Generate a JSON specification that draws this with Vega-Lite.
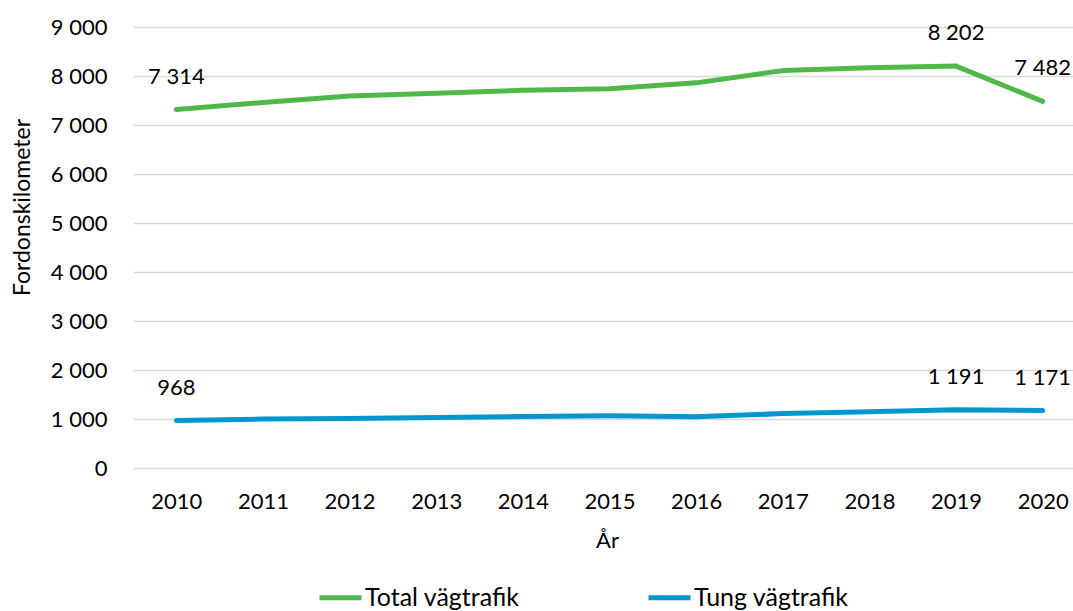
{
  "$schema": "https://vega.github.io/schema/vega-lite/v6.json",
  "autosize": {"type": "none"},
  "padding": {"left": 133, "top": 27, "right": 0, "bottom": 143},
  "width": 953,
  "height": 441,
  "background": "white",
  "config": {
    "locale": {"number": {"decimal": ",", "thousands": "\u00a0", "grouping": [3], "currency": ["", " kr"]}},
    "font": "Lato",
    "view": {"stroke": null}
  },
  "data": {
    "values": [
      {"year": "2010", "series": "Total vägtrafik", "value": 7314},
      {"year": "2011", "series": "Total vägtrafik", "value": 7460},
      {"year": "2012", "series": "Total vägtrafik", "value": 7590},
      {"year": "2013", "series": "Total vägtrafik", "value": 7650},
      {"year": "2014", "series": "Total vägtrafik", "value": 7710},
      {"year": "2015", "series": "Total vägtrafik", "value": 7740},
      {"year": "2016", "series": "Total vägtrafik", "value": 7860},
      {"year": "2017", "series": "Total vägtrafik", "value": 8110},
      {"year": "2018", "series": "Total vägtrafik", "value": 8170},
      {"year": "2019", "series": "Total vägtrafik", "value": 8202},
      {"year": "2020", "series": "Total vägtrafik", "value": 7482},
      {"year": "2010", "series": "Tung vägtrafik", "value": 968},
      {"year": "2011", "series": "Tung vägtrafik", "value": 1000},
      {"year": "2012", "series": "Tung vägtrafik", "value": 1010},
      {"year": "2013", "series": "Tung vägtrafik", "value": 1030},
      {"year": "2014", "series": "Tung vägtrafik", "value": 1050},
      {"year": "2015", "series": "Tung vägtrafik", "value": 1065},
      {"year": "2016", "series": "Tung vägtrafik", "value": 1045},
      {"year": "2017", "series": "Tung vägtrafik", "value": 1110},
      {"year": "2018", "series": "Tung vägtrafik", "value": 1150},
      {"year": "2019", "series": "Tung vägtrafik", "value": 1191},
      {"year": "2020", "series": "Tung vägtrafik", "value": 1171}
    ]
  },
  "encoding": {
    "x": {
      "field": "year", "type": "ordinal",
      "scale": {"type": "point", "padding": 0.5},
      "axis": {
        "title": "År", "labelAngle": 0, "domain": false, "ticks": false, "grid": false,
        "labelFontSize": 22, "labelColor": "#000000", "labelPadding": 23, "labelFont": "Lato",
        "titleFontSize": 22, "titleFontWeight": "normal", "titleColor": "#000000", "titleFont": "Lato",
        "titleX": 474, "titleY": 72, "titleBaseline": "middle", "titleAlign": "center"
      }
    },
    "y": {
      "field": "value", "type": "quantitative",
      "scale": {"domain": [0, 9000], "nice": false},
      "axis": {
        "title": "Fordonskilometer", "values": [0, 1000, 2000, 3000, 4000, 5000, 6000, 7000, 8000, 9000],
        "format": ",.0f", "domain": false, "ticks": false, "grid": true, "gridColor": "#d9d9d9", "gridWidth": 1.3,
        "labelFontSize": 22, "labelColor": "#000000", "labelPadding": 26, "labelFont": "Lato",
        "titleFontSize": 23, "titleFontWeight": "normal", "titleColor": "#000000", "titleFont": "Lato",
        "titleX": -111, "titleY": 180, "titleBaseline": "middle", "titleAlign": "center", "titleAngle": -90
      }
    },
    "color": {
      "field": "series", "type": "nominal",
      "scale": {"domain": ["Total vägtrafik", "Tung vägtrafik"], "range": ["#50b848", "#0097cf"]},
      "legend": {
        "title": null, "orient": "none", "direction": "horizontal",
        "legendX": 184, "legendY": 547,
        "symbolType": "stroke", "symbolStrokeWidth": 5, "symbolSize": 1764,
        "labelFontSize": 25, "labelColor": "#000000", "labelFont": "Lato", "labelOffset": 1,
        "columnPadding": 118
      }
    }
  },
  "layer": [
    {"mark": {"type": "line", "strokeWidth": 5, "strokeCap": "round", "strokeJoin": "round"}},
    {
      "transform": [{"filter": {"field": "year", "oneOf": ["2010", "2019", "2020"]}}],
      "mark": {"type": "text", "dy": -33, "fontSize": 22, "font": "Lato", "color": "#000000"},
      "encoding": {
        "text": {"field": "value", "type": "quantitative", "format": ",.0f"},
        "color": {"value": "#000000"}
      }
    }
  ]
}
